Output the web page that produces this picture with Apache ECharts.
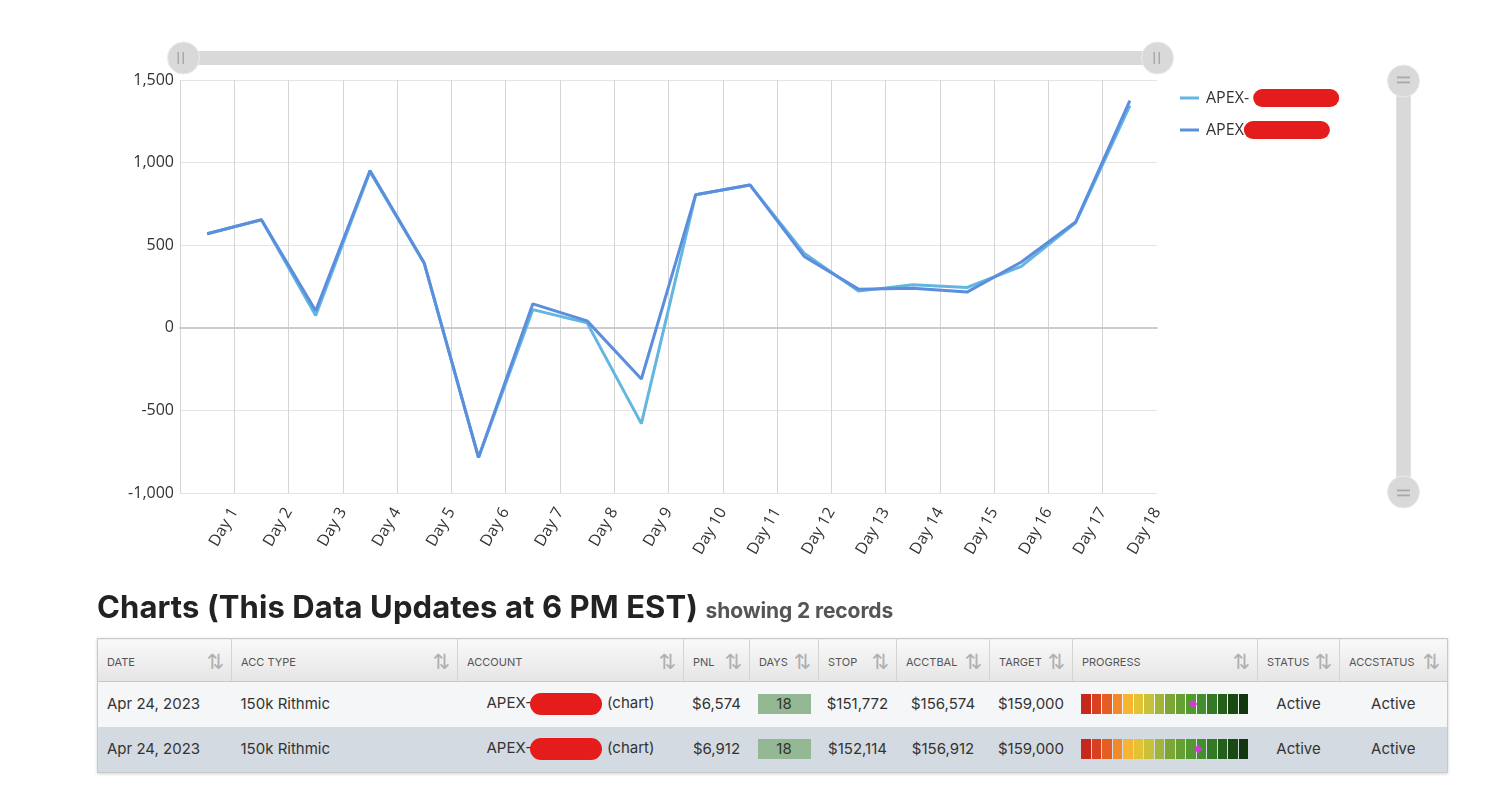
<!DOCTYPE html>
<html><head><meta charset="utf-8">
<script src="https://cdn.jsdelivr.net/npm/echarts@6/dist/echarts.min.js"></script>
<style>
html,body{margin:0;padding:0;background:#fff;width:1489px;height:808px;overflow:hidden;}
#chart{position:absolute;left:0;top:0;width:1489px;height:600px;}
#title{position:absolute;left:97px;top:587px;font-family:Inter,sans-serif;font-weight:700;font-size:31px;line-height:40px;color:#222;white-space:nowrap;letter-spacing:0.1px;}
#title span{font-size:21px;color:#555;font-weight:700;letter-spacing:-0.1px;}
table{position:absolute;left:97px;top:638px;width:1350px;border-collapse:collapse;table-layout:fixed;font-family:Inter,sans-serif;border:1px solid #c9c9c9;box-shadow:0 1px 3px rgba(0,0,0,.18);}
th{height:39px;background:linear-gradient(#f9f9f9,#e5e5e5);font-weight:400;font-size:11px;color:#555;text-align:left;padding:3px 7px 0 9px;border-right:1px solid #d3d3d3;border-bottom:1px solid #c9c9c9;box-sizing:content-box;}
th:last-child{border-right:none;}
th div{display:flex;justify-content:space-between;align-items:center;}
th i{font-style:normal;font-size:21px;line-height:20px;color:#b0b0b0;font-family:"DejaVu Sans",sans-serif;}
td{height:43px;padding:0 0 2px 0;font-size:15px;color:#333;text-align:center;white-space:nowrap;}
td.l{text-align:left;padding-left:9px;}
tr.r1 td{background:#f5f6f8;}
tr.r2 td{background:#d3dae1;}
.days{display:inline-block;width:53px;height:20px;line-height:20px;background:#93b893;color:#333;}
.blob{display:inline-block;width:72px;height:22px;background:#e41c1c;border-radius:11px;vertical-align:middle;margin:0 5px 0 -2px;}
.prog{position:relative;display:inline-flex;vertical-align:middle;}
.prog s{display:block;width:9.5px;height:20px;margin-right:1px;text-decoration:none;}
.prog s:last-child{margin-right:0;}
.prog b{position:absolute;top:7px;width:6px;height:6px;background:#d63ad6;transform:rotate(45deg);margin-left:-3px;}
</style></head>
<body>
<div id="chart"></div>
<div id="title">Charts (This Data Updates at 6 PM EST) <span>showing 2 records</span></div>
<table id="tbl">
<colgroup><col style="width:134px"><col style="width:226px"><col style="width:226px"><col style="width:66px"><col style="width:69px"><col style="width:78px"><col style="width:93px"><col style="width:83px"><col style="width:185px"><col style="width:82px"><col style="width:108px"></colgroup>
<thead><tr id="head"></tr></thead>
<tbody id="body"></tbody>
</table>
<script>
// ---- chart data ----
const days = ['Day 1','Day 2','Day 3','Day 4','Day 5','Day 6','Day 7','Day 8','Day 9','Day 10','Day 11','Day 12','Day 13','Day 14','Day 15','Day 16','Day 17','Day 18'];
const seriesNames = ['APEX-1', 'APEX-2'];
const pnlA = [569, 654, 75, 945, 390, -785, 110, 30, -580, 805, 865, 452, 222, 260, 244, 372, 635, 1345];
const pnlB = [569, 654, 103, 952, 392, -785, 145, 42, -310, 805, 865, 432, 234, 240, 216, 398, 640, 1375];
const yMin = -1000, yMax = 1500, yStep = 500;

// ---- table data ----
const headers = ['DATE','ACC TYPE','ACCOUNT','PNL','DAYS','STOP','ACCTBAL','TARGET','PROGRESS','STATUS','ACCSTATUS'];
const rowDates = ['Apr 24, 2023','Apr 24, 2023'];
const rowTypes = ['150k Rithmic','150k Rithmic'];
const rowPnl = ['$6,574','$6,912'];
const rowDays = [18, 18];
const rowStop = [151772, 152114];
const rowBal = [156574, 156912];
const rowTarget = [159000, 159000];
const rowStatus = ['Active','Active'];
const rowAccStatus = ['Active','Active'];
const progColors = ['#c7281d','#d8401f','#e45d22','#f08a2a','#f7b532','#e3c233','#c9c238','#a2b43a','#7ea637','#66a033','#529a2f','#438f2b','#337a24','#245f1c','#1a4914','#12370e'];

const fmt = v => '$' + v.toLocaleString('en-US');
document.getElementById('head').innerHTML = headers.map(h => '<th><div><span>' + h + '</span><i>⇅</i></div></th>').join('');
let bodyHtml = '';
for (let r = 0; r < rowDates.length; r++) {
  const pct = (rowBal[r] - rowStop[r]) / (rowTarget[r] - rowStop[r]) * 100;
  const segs = progColors.map(c => '<s style="background:' + c + '"></s>').join('');
  bodyHtml += '<tr class="r' + (r + 1) + '">' +
    '<td class="l">' + rowDates[r] + '</td>' +
    '<td class="l">' + rowTypes[r] + '</td>' +
    '<td>APEX-<span class="blob"></span>(chart)</td>' +
    '<td>' + rowPnl[r] + '</td>' +
    '<td><span class="days">' + rowDays[r] + '</span></td>' +
    '<td>' + fmt(rowStop[r]) + '</td>' +
    '<td>' + fmt(rowBal[r]) + '</td>' +
    '<td>' + fmt(rowTarget[r]) + '</td>' +
    '<td><span class="prog">' + segs + '<b style="left:' + pct.toFixed(1) + '%"></b></span></td>' +
    '<td>' + rowStatus[r] + '</td>' +
    '<td>' + rowAccStatus[r] + '</td></tr>';
}
document.getElementById('body').innerHTML = bodyHtml;

// ---- chart ----
const chart = echarts.init(document.getElementById('chart'), null, {renderer: 'canvas'});
const handleMark = '#a9a9a9';
const option = {
  animation: false,
  textStyle: {fontFamily: '"Open Sans", sans-serif'},
  color: ['#63b6e0', '#5b8edc'],
  grid: {left: 180, right: 332, top: 80, bottom: 107, containLabel: false, outerBoundsMode: 'none'},
  legend: {
    orient: 'vertical', left: 1180, top: 89, padding: 0, itemGap: 14, itemWidth: 19, itemHeight: 3, icon: 'rect',
    data: seriesNames,
    formatter: n => n === seriesNames[0] ? 'APEX- {r|\u00a0}' : 'APEX{r|\u00a0}',
    textStyle: {fontSize: 16, color: '#333', padding: [0, 0, 0, 2], rich: {r: {backgroundColor: '#e41c1c', width: 86, height: 18, borderRadius: 9}}}
  },
  xAxis: [
    {type: 'category', data: days, boundaryGap: true,
     axisLine: {show: true, onZero: true, lineStyle: {color: '#cccccc', width: 2}},
     axisTick: {show: false}, axisLabel: {show: false},
     splitLine: {show: true, showMaxLine: false, lineStyle: {color: '#d5d5d5'}}},
    {type: 'category', data: [''].concat(days), boundaryGap: false, position: 'bottom',
     axisLine: {show: false, onZero: false}, axisTick: {show: false}, splitLine: {show: false},
     axisLabel: {interval: 0, rotate: 60, margin: 16, fontSize: 16, color: '#333'}}
  ],
  yAxis: {type: 'value', min: yMin, max: yMax, interval: yStep,
    axisLine: {show: false}, axisTick: {show: false},
    splitLine: {lineStyle: {color: '#e4e4e4'}},
    axisLabel: {fontSize: 16, color: '#333', margin: 6, formatter: v => v.toLocaleString('en-US')}},
  dataZoom: [
    {type: 'slider', xAxisIndex: 0, filterMode: 'none', top: 51, height: 14, left: 181, right: 332,
     backgroundColor: '#d9d9d9', fillerColor: '#d9d9d9', borderColor: 'transparent', borderRadius: 0,
     showDataShadow: false, showDetail: false, brushSelect: false, moveHandleSize: 0,
     moveHandleStyle: {opacity: 0},
     dataBackground: {lineStyle: {opacity: 0}, areaStyle: {opacity: 0}},
     selectedDataBackground: {lineStyle: {opacity: 0}, areaStyle: {opacity: 0}},
     handleIcon: 'circle', handleSize: '230%',
     handleStyle: {color: '#d9d9d9', borderColor: '#ececec', borderWidth: 1},
     emphasis: {handleStyle: {color: '#d9d9d9', borderColor: '#ececec'}, moveHandleStyle: {opacity: 0}}},
    {type: 'slider', yAxisIndex: 0, filterMode: 'none', orient: 'vertical', left: 1396, width: 14, top: 80, bottom: 107,
     backgroundColor: '#d9d9d9', fillerColor: '#d9d9d9', borderColor: 'transparent', borderRadius: 0,
     showDataShadow: false, showDetail: false, brushSelect: false, moveHandleSize: 0,
     moveHandleStyle: {opacity: 0},
     dataBackground: {lineStyle: {opacity: 0}, areaStyle: {opacity: 0}},
     selectedDataBackground: {lineStyle: {opacity: 0}, areaStyle: {opacity: 0}},
     handleIcon: 'circle', handleSize: '230%',
     handleStyle: {color: '#d9d9d9', borderColor: '#ececec', borderWidth: 1},
     emphasis: {handleStyle: {color: '#d9d9d9', borderColor: '#ececec'}, moveHandleStyle: {opacity: 0}}}
  ],
  graphic: [
    {type: 'rect', z: 100, shape: {x: 177.5, y: 52, width: 1.5, height: 12}, style: {fill: handleMark}},
    {type: 'rect', z: 100, shape: {x: 182.5, y: 52, width: 1.5, height: 12}, style: {fill: handleMark}},
    {type: 'rect', z: 100, shape: {x: 1153.5, y: 52, width: 1.5, height: 12}, style: {fill: handleMark}},
    {type: 'rect', z: 100, shape: {x: 1158.5, y: 52, width: 1.5, height: 12}, style: {fill: handleMark}},
    {type: 'rect', z: 100, shape: {x: 1397, y: 76.5, width: 13, height: 1.8}, style: {fill: handleMark}},
    {type: 'rect', z: 100, shape: {x: 1397, y: 81.5, width: 13, height: 1.8}, style: {fill: handleMark}},
    {type: 'rect', z: 100, shape: {x: 1397, y: 489.5, width: 13, height: 1.8}, style: {fill: handleMark}},
    {type: 'rect', z: 100, shape: {x: 1397, y: 494.5, width: 13, height: 1.8}, style: {fill: handleMark}}
  ],
  series: [
    {name: seriesNames[0], type: 'line', xAxisIndex: 0, data: pnlA, symbol: 'none', lineStyle: {width: 3}},
    {name: seriesNames[1], type: 'line', xAxisIndex: 0, data: pnlB, symbol: 'none', lineStyle: {width: 3}}
  ]
};
chart.setOption(option);
</script>
</body></html>
